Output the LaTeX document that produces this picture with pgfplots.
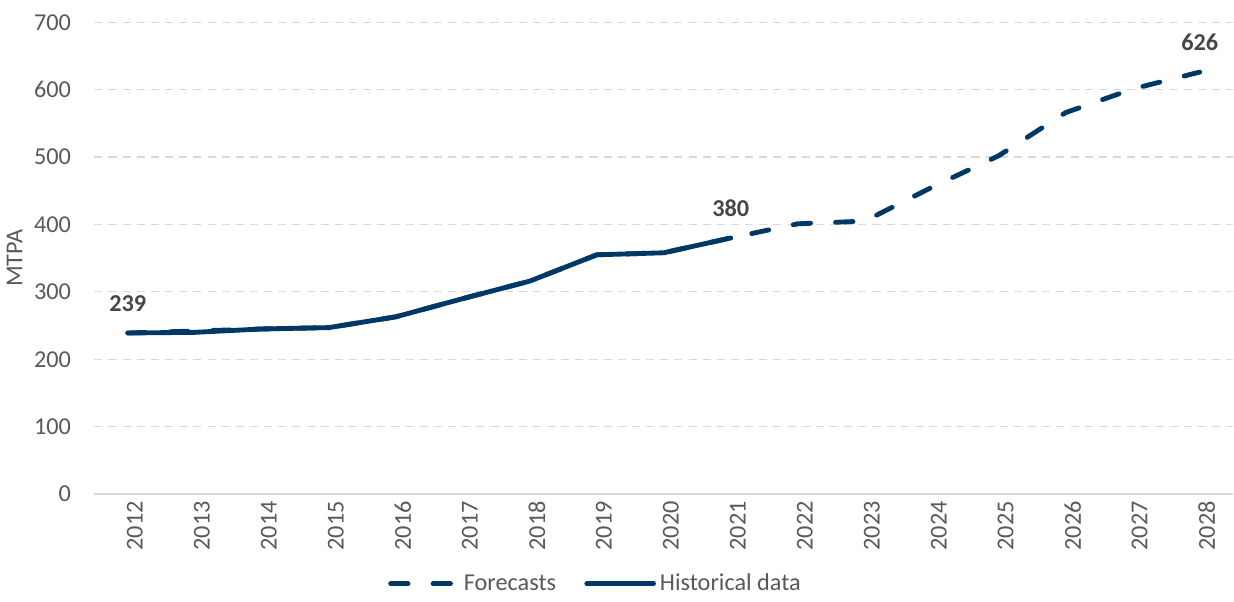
\documentclass[border=0pt]{standalone}
\usepackage{pgfplots}
\pgfplotsset{compat=1.18}
\usepackage{fontspec}
\setmainfont{Carlito}
\definecolor{navy}{HTML}{003865}
\definecolor{txt}{HTML}{595959}
\definecolor{grid}{HTML}{D9D9D9}
\begin{document}
\begin{tikzpicture}
\begin{axis}[
  scale only axis,
  width=563.5pt, height=233.5pt,
  xmin=2011.5, xmax=2028.5,
  ymin=0, ymax=700,
  ytick={0,100,...,700},
  xtick={2012,...,2028},
  /pgf/number format/assume math mode=true,
  xticklabel style={rotate=90, anchor=east, font=\fontsize{12}{14}\selectfont, text=txt},
  yticklabel style={font=\fontsize{12}{14}\selectfont, text=txt},
  xticklabel={\pgfmathprintnumber[1000 sep={}]{\tick}},
  axis x line*=bottom,
  axis y line*=left,
  y axis line style={draw=none},
  x axis line style={draw=grid, line width=0.8pt},
  major tick length=0pt,
  ymajorgrids,
  major grid style={draw=grid, dash pattern=on 4pt off 3pt, line width=0.6pt},
  ylabel={MTPA},
  ylabel style={font=\fontsize{12}{14}\selectfont, text=txt, yshift=-1pt},
  y tick label style={xshift=-8pt},
  x tick label style={yshift=-3.5pt},
  legend style={draw=none, at={(0.441,-0.19)}, anchor=center, legend columns=2,
    font=\fontsize{12}{14}\selectfont, text=txt, /tikz/every even column/.append style={column sep=12pt}},
  legend image code/.code={\draw[#1, line width=2.4pt] (0pt,0pt) -- (33pt,0pt);},
  clip=false,
  extra description/.code={\path (rel axis cs:0,1) ++(0pt,11pt);},
]
\addplot[navy, line width=2.4pt, line cap=round, dash pattern=on 8.6pt off 12.4pt] coordinates {
(2012,239) (2013,242) (2014,245) (2015,247) (2016,263) (2017,290) (2018,316) (2019,355) (2020,358) (2021,380)
(2022,401) (2023,405) (2024,455) (2025,502) (2026,566) (2027,601) (2028,626)};
\addlegendentry{Forecasts}
\addplot[navy, line width=2.4pt, line cap=round, line join=round] coordinates {
(2012,239) (2013,240) (2014,245) (2015,247) (2016,263) (2017,290) (2018,316) (2019,355) (2020,358) (2021,380)};
\addlegendentry{Historical data}
\addplot[draw=none, forget plot, nodes near coords, point meta=explicit symbolic,
  every node near coord/.append style={font=\bfseries\fontsize{12}{14}\selectfont, text=txt!80!black, yshift=7pt}]
  coordinates {(2012,239)[239] (2021,380)[380] (2028,626)[626]};
\end{axis}
\end{tikzpicture}
\end{document}
